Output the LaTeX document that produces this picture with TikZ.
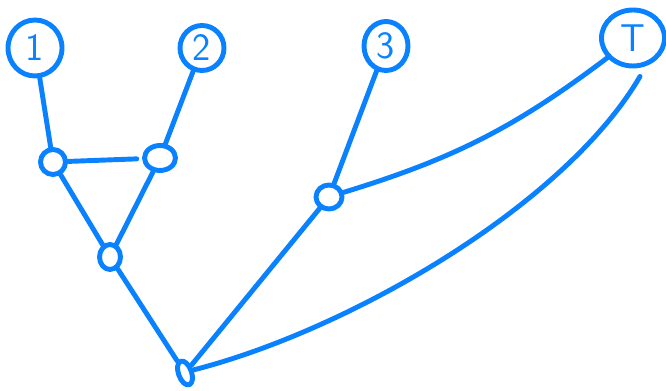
\documentclass[tikz,border=0pt]{standalone}
\usepackage{xcolor}
\usepackage{tikz}
\usetikzlibrary{shapes.geometric}
\definecolor{penblue}{RGB}{10,130,255}

\begin{document}
\begin{tikzpicture}[
	pen/.style={penblue,line width=2.8pt,line cap=round,line join=round},
	leaf/.style={pen,draw,ellipse,inner sep=0pt,font=\sffamily\fontsize{22}{22}\selectfont,text=penblue},
	knot/.style={pen,draw,ellipse,inner sep=0pt}]
	\useasboundingbox (0,0) rectangle (13.32,7.8);
	% the four leaves
	\node[leaf,minimum width=1.08cm,minimum height=1.12cm] (n1) at (0.70,6.84) {1};
	\node[leaf,minimum width=0.88cm,minimum height=0.90cm] (n2) at (4.04,6.84) {2};
	\node[leaf,minimum width=0.88cm,minimum height=0.98cm] (n3) at (7.72,6.88) {3};
	\node[leaf,minimum width=1.26cm,minimum height=1.12cm] (nT) at (12.66,7.04) {T};
	% inner knots
	\node[knot,minimum width=0.50cm,minimum height=0.50cm] (a) at (1.06,4.56) {};
	\node[knot,minimum width=0.62cm,minimum height=0.50cm] (b) at (3.20,4.64) {};
	\node[knot,minimum width=0.42cm,minimum height=0.50cm] (c) at (2.20,2.66) {};
	\node[knot,minimum width=0.52cm,minimum height=0.48cm] (d) at (6.58,3.86) {};
	\node[knot,minimum width=0.26cm,minimum height=0.50cm,rotate=20] (e) at (3.70,0.34) {};
	% free end of the long arc, just under T
	\coordinate (tfoot) at ([xshift=0.14cm,yshift=-0.16cm]nT.south);
	% connections
	\draw[pen] (n1) -- (a);
	\draw[pen] (n2) -- (b);
	\draw[pen,shorten >=3pt] (a) -- (b);
	\draw[pen] (a) -- (c);
	\draw[pen] (b) -- (c);
	\draw[pen] (c) -- (e);
	\draw[pen] (n3) -- (d);
	\draw[pen] (d) -- (e);
	\draw[pen] (d) to[bend right=10] (nT);
	\draw[pen] (tfoot) .. controls (11.30,3.70) and (7.00,1.20) .. (e.east);
\end{tikzpicture}
\end{document}
